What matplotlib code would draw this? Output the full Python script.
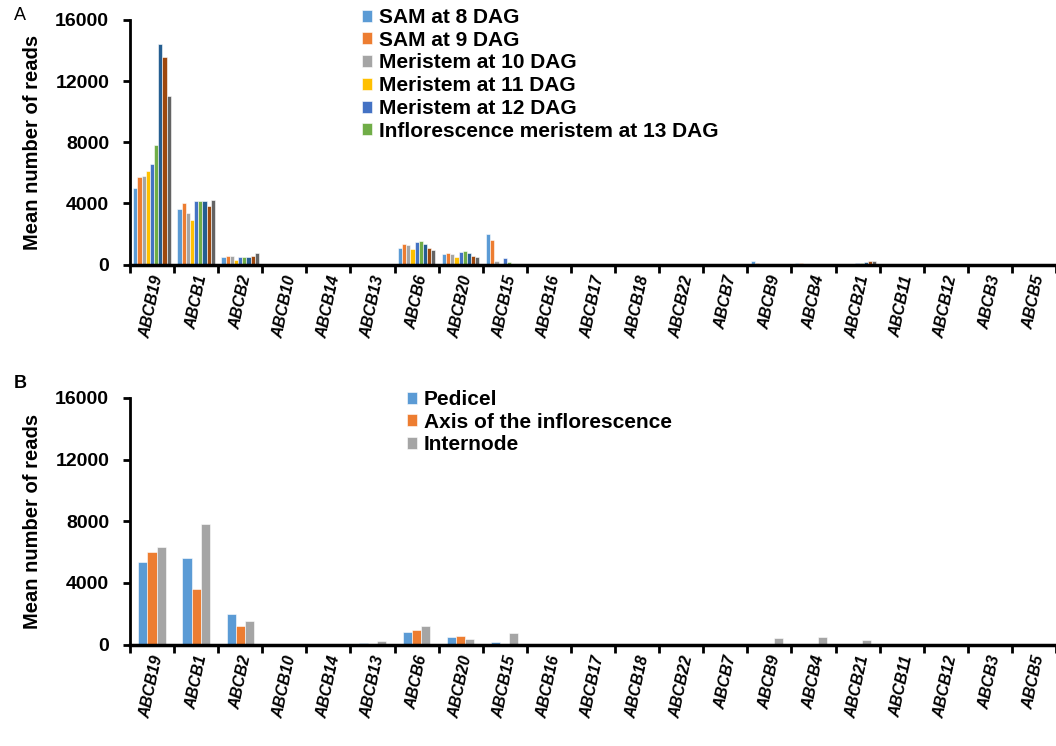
import numpy as np
import matplotlib
matplotlib.use("Agg")
import matplotlib.pyplot as plt

plt.rcParams["font.family"] = ["Liberation Sans", "DejaVu Sans"]

genes = ["ABCB19", "ABCB1", "ABCB2", "ABCB10", "ABCB14", "ABCB13", "ABCB6",
         "ABCB20", "ABCB15", "ABCB16", "ABCB17", "ABCB18", "ABCB22", "ABCB7",
         "ABCB9", "ABCB4", "ABCB21", "ABCB11", "ABCB12", "ABCB3", "ABCB5"]

# panel A: meristem time course (9 series, only 6 shown in legend)
sam8 = [5000, 3600, 520, 0, 0, 0, 1080, 680, 2000, 0, 0, 0, 0, 0, 250, 130, 60, 0, 0, 0, 0]
sam9 = [5700, 4000, 540, 0, 0, 0, 1350, 780, 1600, 0, 0, 0, 0, 0, 120, 100, 50, 0, 0, 0, 0]
mer10 = [5800, 3350, 530, 0, 0, 0, 1280, 700, 250, 0, 0, 0, 0, 0, 30, 40, 60, 0, 0, 0, 0]
mer11 = [6150, 2900, 320, 0, 0, 0, 1020, 480, 20, 0, 0, 0, 0, 0, 20, 20, 40, 0, 0, 0, 0]
mer12 = [6600, 4130, 480, 0, 0, 0, 1500, 790, 400, 0, 0, 0, 0, 0, 30, 30, 80, 0, 0, 0, 0]
im13 = [7800, 4130, 480, 0, 0, 0, 1550, 860, 180, 0, 0, 0, 0, 0, 20, 20, 100, 0, 0, 0, 0]
extra1 = [14400, 4180, 460, 0, 0, 0, 1370, 740, 30, 0, 0, 0, 0, 0, 20, 20, 150, 0, 0, 0, 0]
extra2 = [13600, 3830, 560, 0, 0, 0, 1100, 580, 20, 0, 0, 0, 0, 0, 20, 20, 250, 0, 0, 0, 0]
extra3 = [11000, 4240, 720, 0, 0, 0, 920, 500, 20, 0, 0, 0, 0, 0, 20, 20, 230, 0, 0, 0, 0]

labels_a = ["SAM at 8 DAG", "SAM at 9 DAG", "Meristem at 10 DAG", "Meristem at 11 DAG",
            "Meristem at 12 DAG", "Inflorescence meristem at 13 DAG", None, None, None]
series_a = [sam8, sam9, mer10, mer11, mer12, im13, extra1, extra2, extra3]
colors_a = ["#5B9BD5", "#ED7D31", "#A5A5A5", "#FFC000", "#4472C4", "#70AD47",
            "#255E91", "#9E480E", "#636363"]

# panel B: stem tissues
pedicel = [5330, 5590, 1950, 0, 0, 100, 800, 500, 130, 0, 0, 0, 0, 0, 40, 0, 0, 0, 0, 0, 0]
axis_inf = [6000, 3600, 1230, 0, 0, 20, 960, 580, 20, 0, 0, 0, 0, 0, 0, 0, 0, 0, 0, 0, 0]
internode = [6320, 7800, 1530, 0, 0, 230, 1200, 330, 720, 0, 0, 0, 0, 0, 420, 480, 260, 0, 0, 0, 0]

labels_b = ["Pedicel", "Axis of the inflorescence", "Internode"]
series_b = [pedicel, axis_inf, internode]
colors_b = ["#5B9BD5", "#ED7D31", "#A5A5A5"]

W, H = 1056, 746
fig = plt.figure(figsize=(W / 100, H / 100), dpi=100)


def px_axes(left, right, top, bottom):
    return fig.add_axes([left / W, 1 - bottom / H, (right - left) / W, (bottom - top) / H])


def panel(ax, series, colors, labels, group_frac, legend_xy):
    x = np.arange(len(genes))
    n = len(series)
    bw = group_frac / n
    for i, (vals, col, lab) in enumerate(zip(series, colors, labels)):
        ax.bar(x - group_frac / 2 + bw * (i + 0.5), vals, width=bw, color=col,
               edgecolor="white", linewidth=0.4, label=lab if lab else "_nolegend_")
    ax.set_xlim(-0.5, len(genes) - 0.5)
    ax.set_ylim(0, 16000)
    ax.set_yticks([0, 4000, 8000, 12000, 16000])
    ax.tick_params(axis="y", direction="out", length=5, width=2, labelsize=14, pad=10)
    for t in ax.get_yticklabels():
        t.set_fontweight("bold")
    ax.set_xticks(x)
    ax.set_xticklabels(genes, rotation=78, fontsize=11.5, fontweight="bold", style="italic",
                       ha="center", va="top")
    ax.tick_params(axis="x", which="major", length=0, pad=7)
    ax.set_xticks(np.arange(len(genes) + 1) - 0.5, minor=True)
    ax.tick_params(axis="x", which="minor", direction="out", length=6, width=2)
    for s in ["top", "right"]:
        ax.spines[s].set_visible(False)
    ax.spines["left"].set_linewidth(2)
    ax.spines["bottom"].set_linewidth(2.5)
    ax.set_ylabel("Mean number of reads", fontsize=14.5, fontweight="bold")
    ax.yaxis.set_label_coords(-0.095, 0.5)
    leg = ax.legend(loc="upper left", bbox_to_anchor=legend_xy, bbox_transform=fig.transFigure,
                    frameon=False, prop={"size": 15, "weight": "bold"},
                    handlelength=0.5, handleheight=0.5, handletextpad=0.3,
                    labelspacing=0.18, borderpad=0, borderaxespad=0)
    return leg


ax_a = px_axes(130, 1056, 20, 264.5)
panel(ax_a, series_a, colors_a, labels_a, 0.85, (362 / W, 1 - 8 / H))

ax_b = px_axes(130, 1056, 398, 644.5)
panel(ax_b, series_b, colors_b, labels_b, 0.62, (407 / W, 1 - 390 / H))

fig.text(14 / W, 1 - 15 / H, "A", fontsize=13, va="center", ha="left")
fig.text(14 / W, 1 - 383 / H, "B", fontsize=13, fontweight="bold", va="center", ha="left")

fig.savefig("out.png", dpi=100)
